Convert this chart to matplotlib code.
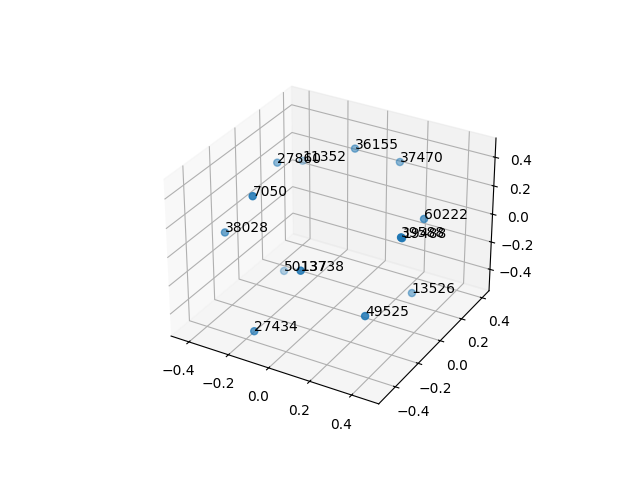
import matplotlib
matplotlib.use('Agg')
from matplotlib import pyplot as plt

labels = ['27860', '11352', '36155', '37470', '7050', '38028', '60222',
          '39588', '19488', '50137', '13738', '13526', '49525', '27434']

# values
xs = [-0.283, -0.283, 0.008, 0.172, -0.161, -0.33, 0.399,
      0.461, 0.425, -0.218, 0.087, 0.356, 0.356, -0.086]
ys = [0.005, 0.215, 0.167, 0.269, -0.384, -0.344, 0.068,
      -0.251, -0.175, -0.057, -0.419, 0.056, -0.355, -0.512]
zs = [0.363, 0.238, 0.463, 0.365, 0.443, 0.1, 0.197,
      0.324, 0.25, -0.337, 0.066, -0.334, -0.178, -0.36]

xlim = (-0.492, 0.527)
ylim = (-0.541, 0.469)
zlim = (-0.558, 0.532)

fig = plt.figure()
ax = fig.add_subplot(projection='3d')
ax.scatter(xs, ys, zs, s=26)
for x, y, z, l in zip(xs, ys, zs, labels):
    ax.text(x, y, z, l)
ax.set_xlim(xlim)
ax.set_ylim(ylim)
ax.set_zlim(zlim)
fig.savefig('out.png')
